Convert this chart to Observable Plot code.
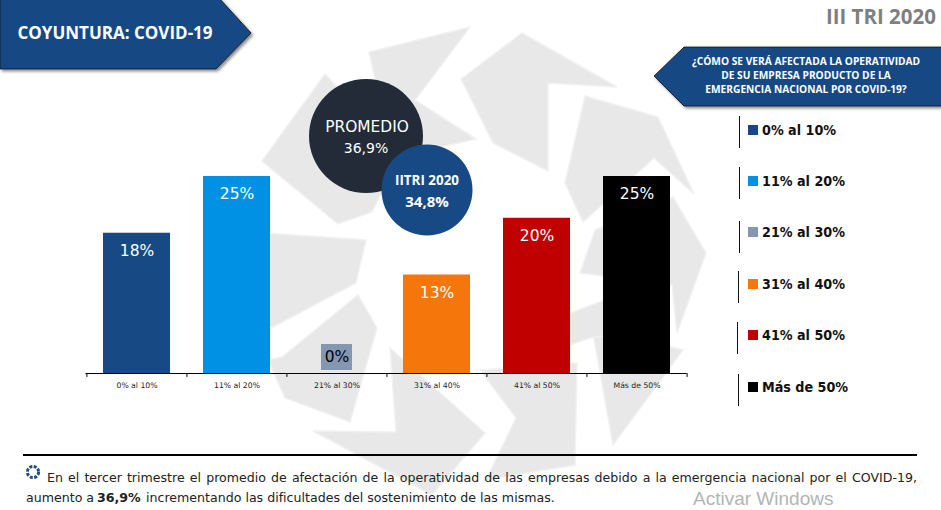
<!DOCTYPE html>
<html lang="es">
<head>
<meta charset="utf-8">
<script src="https://cdn.jsdelivr.net/npm/d3@7"></script>
<script src="https://cdn.jsdelivr.net/npm/@observablehq/plot@0.6"></script>
<style>
html,body{margin:0;padding:0;background:#fff;}
#page{position:relative;width:941px;height:510px;overflow:hidden;font-family:"DejaVu Sans",sans-serif;}
#page>*{position:absolute;}
#bg,#shapes{left:0;top:0;}
#chart{left:0;top:0;}
#chart svg{background:transparent;display:block;}
.t{white-space:nowrap;color:#fff;}
.c{transform:translate(-50%,-50%);text-align:center;}
.leg-bar{width:1.4px;height:32px;background:#111;}
.leg-sw{width:10px;height:10px;}
.leg-tx{font:bold 14.2px "DejaVu Sans",sans-serif;font-stretch:condensed;color:#111;white-space:nowrap;transform:translateY(-50%);}
.note{font:12.6px/20px "DejaVu Sans",sans-serif;color:#222;white-space:nowrap;}
#note1{left:47px;top:468px;width:870px;text-align:justify;text-align-last:justify;}
#note2{left:26px;top:488px;}
#note3{left:97px;top:488px;font-weight:bold;}
#note4{left:146px;top:488px;}
</style>
</head>
<body>
<div id="page">
<svg id="bg" width="941" height="510"></svg>
<div id="chart"></div>
<svg id="shapes" width="941" height="510" style="pointer-events:none">
  <defs><filter id="sh" x="-5%" y="-5%" width="115%" height="125%"><feDropShadow dx="2" dy="2" stdDeviation="1.5" flood-color="#000" flood-opacity=".45"/></filter></defs>
  <polygon points="0,-2 219,-2 251,33 216,69 0,69" fill="#174a84" stroke="#111" stroke-width="0.8" filter="url(#sh)"/>
  <polygon points="654,76 684,47 945,47 945,106 684,106" fill="#174a84" stroke="#111" stroke-width="0.8" filter="url(#sh)"/>
  <circle cx="366" cy="136" r="57" fill="#222b37"/>
  <circle cx="427" cy="190" r="45.5" fill="#174a84"/>
  <circle cx="33" cy="472" r="5.6" fill="none" stroke="#1f4d86" stroke-width="3" stroke-dasharray="3 1.4"/>
  <line x1="23" x2="917" y1="455" y2="455" stroke="#000" stroke-width="2"/>
</svg>
<div class="t c" style="left:115px;top:32px;font:bold 17px 'Open Sans',sans-serif">COYUNTURA: COVID-19</div>
<div class="t" style="right:5px;top:2px;font:bold 20.5px 'Open Sans',sans-serif;color:#7f7f7f">III TRI 2020</div>
<div class="t c" style="left:806px;top:75px;font:bold 10.2px/14px 'Open Sans',sans-serif">¿CÓMO SE VERÁ AFECTADA LA OPERATIVIDAD<br>DE SU EMPRESA PRODUCTO DE LA<br>EMERGENCIA NACIONAL POR COVID-19?</div>
<div class="t c" style="left:367px;top:127px;font:15.4px/20px 'DejaVu Sans',sans-serif">PROMEDIO</div>
<div class="t c" style="left:366px;top:148px;font:14px/20px 'DejaVu Sans',sans-serif">36,9%</div>
<div class="t c" style="left:427px;top:180px;font:bold 13.4px/20px 'Open Sans',sans-serif">IITRI 2020</div>
<div class="t c" style="left:427px;top:201px;font:bold 15px/20px 'Open Sans',sans-serif">34,8%</div>
<div id="note1" class="note">En el tercer trimestre el promedio de afectación de la operatividad de las empresas debido a la emergencia nacional por el COVID-19,</div>
<div id="note2" class="note">aumento a</div>
<div id="note3" class="note">36,9%</div>
<div id="note4" class="note">incrementando las dificultades del sostenimiento de las mismas.</div>
<div class="t" style="left:693px;top:489px;font:19px/20px 'Liberation Sans',sans-serif;color:#b4b4b4">Activar Windows</div>
</div>
<script>
const categories = ["0% al 10%", "11% al 20%", "21% al 30%", "31% al 40%", "41% al 50%", "Más de 50%"];
const values = [17.8, 25, 0, 12.5, 19.7, 25];
const valueLabels = ["18%", "25%", "0%", "13%", "20%", "25%"];
const colors = ["#174a84", "#0091e4", "#8497b0", "#f5760a", "#c00000", "#000000"];
const legendLabels = ["0% al 10%", "11% al 20%", "21% al 30%", "31% al 40%", "41% al 50%", "Más de 50%"];

const rows = categories.map((c, i) => ({category: c, value: values[i], label: valueLabels[i]}));
const nonZero = rows.filter(d => d.value > 0);
const zero = rows.filter(d => d.value === 0);
const step = 601 / categories.length;

const plot = Plot.plot({
  width: 941, height: 510,
  marginLeft: 85.5, marginRight: 254.5, marginTop: 176, marginBottom: 137,
  style: {background: "transparent", fontFamily: "'DejaVu Sans',sans-serif", overflow: "visible"},
  x: {type: "band", domain: categories, paddingInner: 0.33, paddingOuter: 0.165, label: null},
  y: {domain: [0, 25], axis: null},
  color: {domain: categories, range: colors},
  marks: [
    Plot.barY(nonZero, {x: "category", y: "value", fill: "category"}),
    Plot.barY(zero, {x: "category", y1: 0.38, y2: 3.68, fill: "category", insetLeft: 18, insetRight: 18}),
    Plot.ruleY([0], {stroke: "#000", strokeWidth: 1.2}),
    Plot.ruleX(categories, {x: d => d, dx: -step / 2, y1: 0, y2: -0.5, stroke: "#000"}),
    Plot.ruleX(categories.slice(-1), {x: d => d, dx: step / 2, y1: 0, y2: -0.5, stroke: "#000"}),
    Plot.text(nonZero, {x: "category", y: "value", text: "label", dy: 18, fill: "#fff", fontSize: 15.5}),
    Plot.text(zero, {x: "category", y: "value", text: "label", dy: -16, fill: "#000", fontSize: 15.5}),
    Plot.axisX({tickSize: 0, tickPadding: 9, fontSize: 7.7, color: "#222"})
  ]
});
document.getElementById("chart").append(plot);

// Decorative watermark behind the chart
const watermark = [
  [[325,74],[262,161],[338,224],[372,212],[395,165],[340,90]],
  [[369,52],[470,27],[415,100],[476,139],[392,158]],
  [[461,79],[522,33],[617,87],[548,83],[548,171],[493,143]],
  [[585,96],[658,117],[694,194],[654,158],[583,222],[565,183]],
  [[580,273],[595,230],[673,197],[706,253],[677,333],[672,285]],
  [[592,328],[683,350],[613,445]],
  [[565,315],[610,298],[610,335],[590,338],[570,345]],
  [[480,370],[577,363],[575,465],[486,480],[516,418]],
  [[390,348],[485,433],[432,495],[313,431],[396,432]],
  [[358,295],[377,328],[350,422],[285,398],[268,360],[282,357]],
  [[265,233],[366,240],[356,283],[273,327],[265,327]]
];
d3.select("#bg").selectAll("polygon").data(watermark).join("polygon")
  .attr("points", d => d.join(" ")).attr("fill", "#e8e8e8")
  .attr("stroke", "#f1f1f1").attr("stroke-width", 1.5);

// Legend
const page = document.getElementById("page");
const legBarY = [132, 183, 237, 287, 338, 390];
const legTextY = [130, 181, 232, 284, 335, 387];
const legBarX = [739, 739, 739, 738, 737, 738];
legendLabels.forEach((t, i) => {
  const add = (cls, css, txt) => {
    const e = document.createElement("div");
    e.className = cls; e.style.cssText = css; if (txt) e.textContent = t;
    page.append(e);
  };
  add("leg-bar", `left:${legBarX[i]}px;top:${legBarY[i]-16}px`);
  add("leg-sw", `left:748px;top:${legTextY[i]-5}px;background:${colors[i]}`);
  add("leg-tx", `left:762px;top:${legTextY[i]}px`, true);
});
</script>
</body>
</html>
